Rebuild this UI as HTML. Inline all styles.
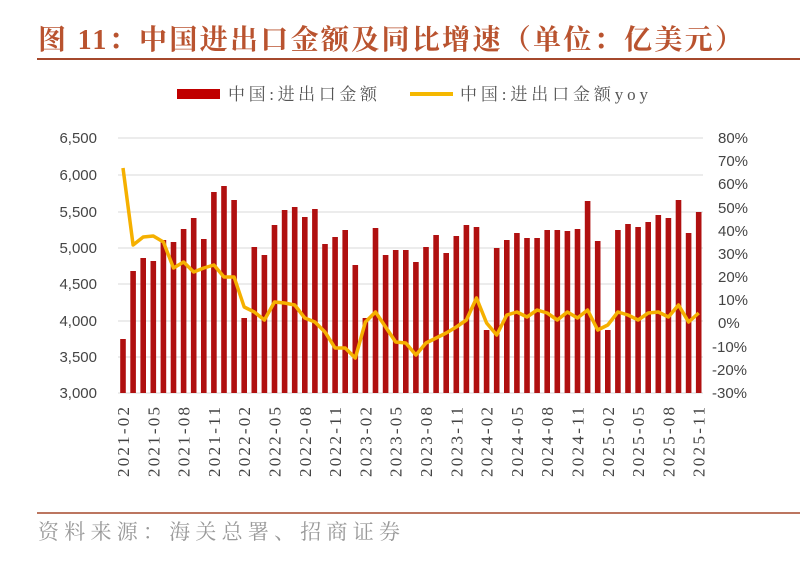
<!DOCTYPE html>
<html><head><meta charset="utf-8"><style>
html,body{margin:0;padding:0;background:#fff;width:800px;height:568px;overflow:hidden}
svg{display:block}
</style></head><body>
<svg width="800" height="568" xmlns="http://www.w3.org/2000/svg">
<text x="38" y="49" font-family="'Liberation Serif','Noto Serif CJK SC',serif" font-weight="bold" font-size="28" fill="#b9532f" textLength="705" lengthAdjust="spacing">图 11：中国进出口金额及同比增速（单位：亿美元）</text>
<line x1="37" y1="59" x2="800" y2="59" stroke="#a5482c" stroke-width="2"/>
<rect x="177" y="89" width="43" height="10" fill="#c00000"/>
<text x="228" y="100" font-family="'Liberation Serif','Noto Serif CJK SC',serif" font-size="17" fill="#555" textLength="149" lengthAdjust="spacing">中国:进出口金额</text>
<line x1="410" y1="94" x2="453" y2="94" stroke="#f5b800" stroke-width="4"/>
<text x="460" y="100" font-family="'Liberation Serif','Noto Serif CJK SC',serif" font-size="17" fill="#555" textLength="188" lengthAdjust="spacing">中国:进出口金额yoy</text>
<g stroke="#d9d9d9" stroke-width="1">
<line x1="118" y1="138" x2="703" y2="138"/><line x1="118" y1="175" x2="703" y2="175"/><line x1="118" y1="212" x2="703" y2="212"/><line x1="118" y1="248" x2="703" y2="248"/><line x1="118" y1="284" x2="703" y2="284"/><line x1="118" y1="321" x2="703" y2="321"/><line x1="118" y1="357" x2="703" y2="357"/><line x1="118" y1="393" x2="703" y2="393"/>
</g>
<g font-family="'Liberation Sans',sans-serif" font-size="15" fill="#444" text-anchor="end">
<text x="97" y="143">6,500</text><text x="97" y="180">6,000</text><text x="97" y="217">5,500</text><text x="97" y="253">5,000</text><text x="97" y="289">4,500</text><text x="97" y="326">4,000</text><text x="97" y="362">3,500</text><text x="97" y="398">3,000</text>
</g>
<g font-family="'Liberation Sans',sans-serif" font-size="15" fill="#444">
<text x="718" y="143">80%</text><text x="718" y="166">70%</text><text x="718" y="189">60%</text><text x="718" y="213">50%</text><text x="718" y="236">40%</text><text x="718" y="259">30%</text><text x="718" y="282">20%</text><text x="718" y="305">10%</text><text x="718" y="328">0%</text><text x="712" y="352">-10%</text><text x="712" y="375">-20%</text><text x="712" y="398">-30%</text>
</g>
<g id="bars" fill="#b01010"></g>
<polyline id="ln" fill="none" stroke="#f5b000" stroke-width="3.5" stroke-linejoin="round" points=""/>
<g id="xl" font-family="'Liberation Serif',serif" font-size="17" fill="#444"></g>
<line x1="37" y1="513" x2="800" y2="513" stroke="#a5482c" stroke-width="1.5"/>
<text x="38" y="539" font-family="'Liberation Serif','Noto Serif CJK SC',serif" font-size="21" fill="#999" textLength="362" lengthAdjust="spacing">资料来源：海关总署、招商证券</text>
</svg>
<script>
var tops=[339,271,258,261,240,242,229,218,239,192,186,200,318,247,255,225,210,207,217,209,244,237,230,265,318,228,255,250,250,262,247,235,253,236,225,227,330,248,240,233,238,238,230,230,231,229,201,241,330,230,224,227,222,215,218,200,233,212];
var ly=[168,245,237,236,242,268,262,272,268,265,277,277,307,312,320,302,303,305,318,322,332,348,348,358,322,312,327,342,343,355,343,338,333,327,320,298,323,335,315,312,317,310,313,320,312,318,310,330,325,312,315,320,313,312,317,305,322,313];
var ns="http://www.w3.org/2000/svg",g=document.getElementById('bars'),pts=[];
var xl=document.getElementById('xl');
for(var i=0;i<58;i++){var x=123+i*10.1;var r=document.createElementNS(ns,'rect');
r.setAttribute('x',(x-2.8).toFixed(1));r.setAttribute('y',tops[i]);r.setAttribute('width',5.6);r.setAttribute('height',393-tops[i]);g.appendChild(r);
pts.push(x.toFixed(1)+','+ly[i]);
if(i%3==0){var m=2+i,yr=2021+Math.floor((m-1)/12),mo=((m-1)%12)+1;var t=document.createElementNS(ns,'text');
t.setAttribute('transform','translate('+(x+6)+',477) rotate(-90)');t.setAttribute('textLength','70');t.setAttribute('lengthAdjust','spacing');t.textContent=yr+'-'+(mo<10?'0':'')+mo;xl.appendChild(t);}}
document.getElementById('ln').setAttribute('points',pts.join(' '));
</script>
</body></html>
